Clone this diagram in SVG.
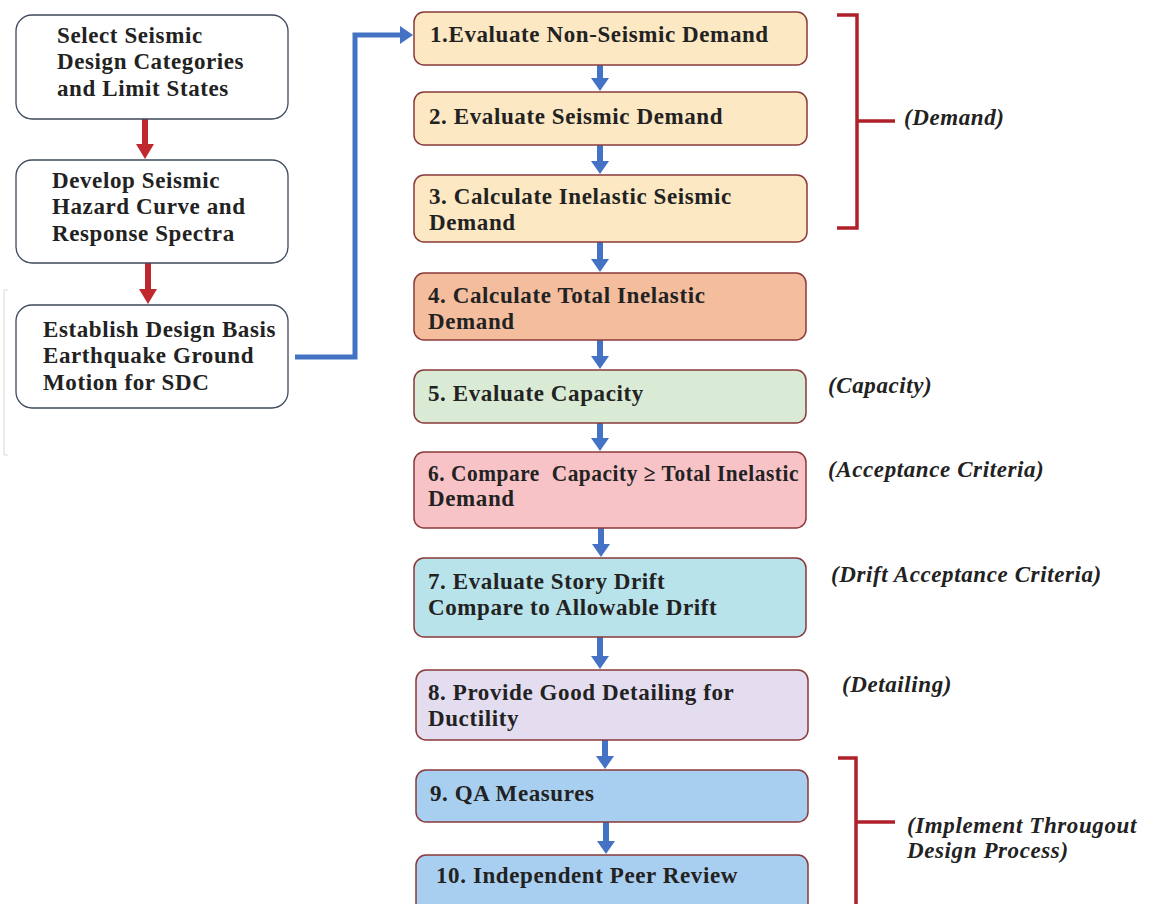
<svg xmlns="http://www.w3.org/2000/svg" width="1161" height="904" viewBox="0 0 1161 904">
<style>
.lb{fill:#fff;stroke:#3f4a5e;stroke-width:1.3}
.rb{stroke:#8a3a3a;stroke-width:1.5}
.t{font-family:"Liberation Serif",serif;font-weight:bold;font-size:23px;letter-spacing:0.6px;fill:#222}
.it{font-family:"Liberation Serif",serif;font-weight:bold;font-style:italic;font-size:23px;letter-spacing:0.6px;fill:#222}
.ba{stroke:#4472c4;stroke-width:6;fill:none}
.ra{stroke:#c0282d;stroke-width:6;fill:none}
.br{stroke:#b0202a;stroke-width:3.5;fill:none}
</style>
<defs>
<marker id="rh" markerUnits="userSpaceOnUse" markerWidth="18" markerHeight="16" refX="9" refY="1" viewBox="0 0 18 16">
<path d="M0 0 L18 0 L9 15 Z" fill="#c0282d"/>
</marker>
<marker id="bh" markerUnits="userSpaceOnUse" markerWidth="14" markerHeight="18" refX="1" refY="9" orient="auto" viewBox="0 0 14 18">
<path d="M0 0 L13 9 L0 18 Z" fill="#4472c4"/>
</marker>
</defs>
<rect width="1161" height="904" fill="#fff"/>
<path d="M8 290 L4 290 L4 455 L8 455" stroke="#d8d8d8" stroke-width="1" fill="none"/>

<g id="connectors">
<line class="ra" x1="145" y1="119" x2="145" y2="145" marker-end="url(#rh)"/>
<line class="ra" x1="148" y1="263" x2="148" y2="290" marker-end="url(#rh)"/>
<polyline class="ba" style="stroke-width:5" points="295,357 355,357 355,35 401,35" marker-end="url(#bh)"/>
<line class="ba" x1="600" y1="65" x2="600" y2="79" marker-end="url(#bh)"/>
<line class="ba" x1="600" y1="145" x2="600" y2="162" marker-end="url(#bh)"/>
<line class="ba" x1="600" y1="242" x2="600" y2="260" marker-end="url(#bh)"/>
<line class="ba" x1="600" y1="340" x2="600" y2="357" marker-end="url(#bh)"/>
<line class="ba" x1="600" y1="423" x2="600" y2="439" marker-end="url(#bh)"/>
<line class="ba" x1="601" y1="528" x2="601" y2="545" marker-end="url(#bh)"/>
<line class="ba" x1="600" y1="637" x2="600" y2="657" marker-end="url(#bh)"/>
<line class="ba" x1="605" y1="740" x2="605" y2="757" marker-end="url(#bh)"/>
<line class="ba" x1="606" y1="822" x2="606" y2="842" marker-end="url(#bh)"/>
<path class="br" d="M837 15 L857 15 L857 228 L837 228 M857 121 L895 121"/>
<path class="br" d="M838 758 L856 758 L856 910 M856 822 L895 822"/>
</g>

<g id="n-select"><rect class="lb" x="16" y="15" width="272" height="104" rx="16"/>
<text class="t" x="57" y="43">Select Seismic</text><text class="t" x="57" y="69">Design Categories</text><text class="t" x="57" y="96">and Limit States</text></g>
<g id="n-develop"><rect class="lb" x="16" y="160" width="272" height="103" rx="16"/>
<text class="t" x="52" y="188">Develop Seismic</text><text class="t" x="52" y="214">Hazard Curve and</text><text class="t" x="52" y="241">Response Spectra</text></g>
<g id="n-establish"><rect class="lb" x="16" y="305" width="272" height="103" rx="16"/>
<text class="t" x="43" y="337">Establish Design Basis</text><text class="t" x="43" y="363">Earthquake Ground</text><text class="t" x="43" y="390">Motion for SDC</text></g>

<g id="n1"><rect class="rb" x="414" y="12" width="393" height="53" rx="10" fill="#fce8c2"/>
<text class="t" x="430" y="42">1.Evaluate Non-Seismic Demand</text></g>
<g id="n2"><rect class="rb" x="414" y="92" width="393" height="53" rx="10" fill="#fce8c2"/>
<text class="t" x="429" y="124">2. Evaluate Seismic Demand</text></g>
<g id="n3"><rect class="rb" x="414" y="175" width="393" height="67" rx="10" fill="#fce8c2"/>
<text class="t" x="429" y="204">3. Calculate Inelastic Seismic</text><text class="t" x="429" y="230">Demand</text></g>
<g id="n4"><rect class="rb" x="414" y="273" width="392" height="67" rx="10" fill="#f4bd9e"/>
<text class="t" x="428" y="303">4. Calculate Total Inelastic</text><text class="t" x="428" y="329">Demand</text></g>
<g id="n5"><rect class="rb" x="414" y="370" width="392" height="53" rx="10" fill="#d9ebd4"/>
<text class="t" x="428" y="401">5. Evaluate Capacity</text></g>
<g id="n6"><rect class="rb" x="414" y="452" width="392" height="76" rx="10" fill="#f8c3c6"/>
<text class="t" x="428" y="481" xml:space="preserve" textLength="371" lengthAdjust="spacingAndGlyphs">6. Compare  Capacity ≥ Total Inelastic</text><text class="t" x="428" y="506">Demand</text></g>
<g id="n7"><rect class="rb" x="414" y="558" width="392" height="79" rx="10" fill="#b9e3ea"/>
<text class="t" x="428" y="589">7. Evaluate Story Drift</text><text class="t" x="428" y="615">Compare to Allowable Drift</text></g>
<g id="n8"><rect class="rb" x="416" y="670" width="392" height="70" rx="10" fill="#e4ddf0"/>
<text class="t" x="428" y="700">8. Provide Good Detailing for</text><text class="t" x="428" y="726">Ductility</text></g>
<g id="n9"><rect class="rb" x="416" y="770" width="392" height="52" rx="10" fill="#a9cff0"/>
<text class="t" x="430" y="801">9. QA Measures</text></g>
<g id="n10"><rect class="rb" x="416" y="855" width="392" height="60" rx="10" fill="#a9cff0"/>
<text class="t" x="436" y="883">10. Independent Peer Review</text></g>

<g id="labels">
<text class="it" x="904" y="125">(Demand)</text>
<text class="it" x="828" y="393">(Capacity)</text>
<text class="it" x="828" y="477">(Acceptance Criteria)</text>
<text class="it" x="831" y="582">(Drift Acceptance Criteria)</text>
<text class="it" x="842" y="692">(Detailing)</text>
<text class="it" x="907" y="833">(Implement Througout</text>
<text class="it" x="907" y="858">Design Process)</text>
</g>
</svg>
